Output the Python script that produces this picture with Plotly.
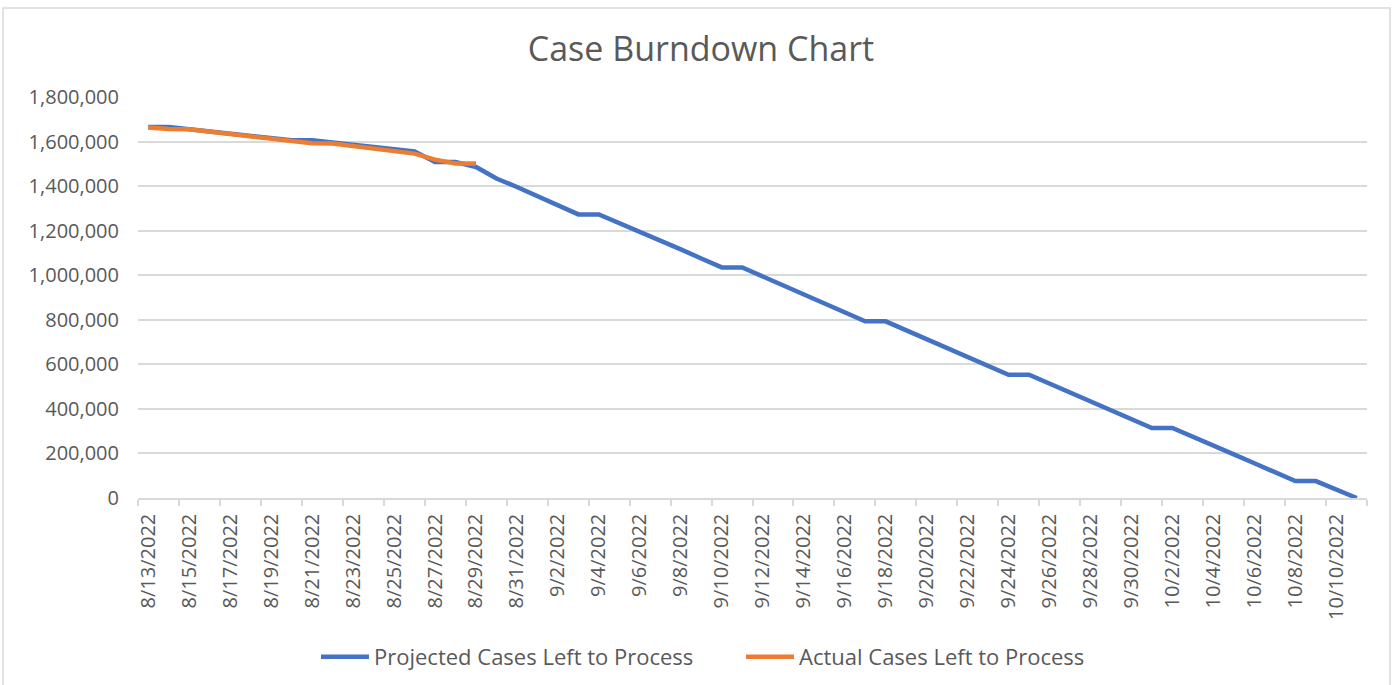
import plotly.graph_objects as go

dates = [
    "8/13/2022", "8/14/2022", "8/15/2022", "8/16/2022", "8/17/2022", "8/18/2022", "8/19/2022",
    "8/20/2022", "8/21/2022", "8/22/2022", "8/23/2022", "8/24/2022", "8/25/2022", "8/26/2022",
    "8/27/2022", "8/28/2022", "8/29/2022", "8/30/2022", "8/31/2022", "9/1/2022", "9/2/2022",
    "9/3/2022", "9/4/2022", "9/5/2022", "9/6/2022", "9/7/2022", "9/8/2022", "9/9/2022",
    "9/10/2022", "9/11/2022", "9/12/2022", "9/13/2022", "9/14/2022", "9/15/2022", "9/16/2022",
    "9/17/2022", "9/18/2022", "9/19/2022", "9/20/2022", "9/21/2022", "9/22/2022", "9/23/2022",
    "9/24/2022", "9/25/2022", "9/26/2022", "9/27/2022", "9/28/2022", "9/29/2022", "9/30/2022",
    "10/1/2022", "10/2/2022", "10/3/2022", "10/4/2022", "10/5/2022", "10/6/2022", "10/7/2022",
    "10/8/2022", "10/9/2022", "10/10/2022", "10/11/2022",
]

projected = [
    1665000, 1665000, 1655000, 1645000, 1636000, 1626000, 1616000,
    1606000, 1606000, 1596000, 1587000, 1576000, 1566000, 1556000,
    1508000, 1508000, 1486000, 1434000, 1396000, 1355000, 1314000,
    1273000, 1273000, 1235000, 1197000, 1157000, 1116000, 1075000,
    1035000, 1035000, 995000, 955000, 913000, 873000, 833000,
    793000, 793000, 753000, 713000, 673000, 633000, 593000,
    553000, 553000, 514000, 474000, 434000, 394000, 354000,
    314000, 314000, 276000, 236000, 196000, 156000, 116000,
    76000, 76000, 36000, 0,
]

actual_dates = dates[:17]
actual = [
    1663000, 1656000, 1655000, 1645000, 1634000, 1624000, 1613000,
    1602000, 1592000, 1591000, 1581000, 1570000, 1559000, 1546000,
    1519000, 1502000, 1501000,
]

y_ticks = [0, 200000, 400000, 600000, 800000, 1000000, 1200000, 1400000, 1600000, 1800000]

FONT = "Open Sans"
GRAY = "#595959"

fig = go.Figure()
fig.add_trace(go.Scatter(
    x=dates, y=projected, mode="lines", name="Projected Cases Left to Process",
    line=dict(color="#4472C4", width=4.5),
))
fig.add_trace(go.Scatter(
    x=actual_dates, y=actual, mode="lines", name="Actual Cases Left to Process",
    line=dict(color="#ED7D31", width=4.5),
))

# plot area in pixels: x 138..1367, y 97..498
pw, ph = 1229.0, 401.0
def px(x):
    return (x - 138) / pw
def py(y):
    return (498 - y) / ph

fig.add_shape(type="rect", xref="paper", yref="paper",
              x0=px(3), x1=px(1390), y0=py(692), y1=py(8),
              line=dict(color="#d9d9d9", width=1.5), fillcolor="rgba(0,0,0,0)", layer="below")

fig.update_layout(
    width=1394, height=685,
    margin=dict(l=138, r=27, t=97, b=187, autoexpand=False),
    paper_bgcolor="white", plot_bgcolor="white",
    font=dict(family=FONT, color=GRAY),
    title=dict(text="Case Burndown Chart", x=701 / 1394, xref="container", xanchor="center",
               y=1 - 49 / 685, yref="container", yanchor="middle",
               font=dict(size=34, color=GRAY, family=FONT)),
    showlegend=True,
    legend=dict(orientation="h", x=px(316), xanchor="left", y=py(657), yanchor="middle",
                font=dict(size=22, color=GRAY), entrywidth=362, entrywidthmode="pixels",
                itemwidth=48, tracegroupgap=0),
    xaxis=dict(
        type="category", categoryorder="array", categoryarray=dates,
        tickmode="linear", tick0=0, dtick=2, tickson="boundaries",
        range=[-0.5, len(dates) - 0.5], automargin=False,
        showgrid=False, showline=True, linecolor="#d9d9d9", linewidth=1.5,
        ticks="outside", ticklen=6, tickcolor="#d9d9d9", tickwidth=1.5,
        tickangle=-90, tickfont=dict(size=20, color=GRAY), ticklabelstandoff=6,
    ),
    yaxis=dict(
        range=[0, 1800000], tickvals=y_ticks, tickformat=",", automargin=False,
        showgrid=True, gridcolor="#d9d9d9", gridwidth=1.5,
        zeroline=False, showline=False, ticks="",
        tickfont=dict(size=20, color=GRAY), ticklabelstandoff=18,
    ),
)

fig.write_html("out.html", config={"displayModeBar": False},
               post_script="document.body.style.margin='0';")
